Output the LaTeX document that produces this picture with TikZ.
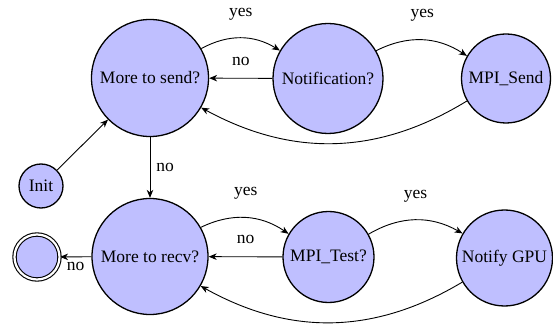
\documentclass[tikz,border=0pt]{standalone}
\usepackage{fontspec}
\setmainfont{Liberation Serif}
\usetikzlibrary{arrows.meta}
\begin{document}
\begin{tikzpicture}[x=1pt,y=1pt,
  every node/.style={font=\fontsize{17.5}{20}\selectfont},
  state/.style={circle,draw,line width=1.3pt,fill=blue!25,inner sep=0pt},
  accept/.style={state,double,double distance=2.2pt,line width=1.1pt},
  trans/.style={line width=0.9pt,-{Stealth[length=8pt,width=6.5pt,inset=2.5pt]}},
  lbl/.style={inner sep=1pt}]
\useasboundingbox (0,0) rectangle (553,329);

% states
\node[state,minimum size=117] (send)   at (150,251)   {More to send?};
\node[state,minimum size=110] (notif)  at (328,250.5) {Notification?};
\node[state,minimum size=89]  (mpisend) at (506,250.5) {MPI\_Send};
\node[state,minimum size=44]  (init)   at (41,143)    {Init};
\node[state,minimum size=116] (recv)   at (150,72.5)  {More to recv?};
\node[accept,minimum size=45] (final)  at (37,72)     {};
\node[state,minimum size=91]  (test)   at (328.5,72)  {MPI\_Test?};
\node[state,minimum size=96]  (notify) at (504.5,71)  {Notify GPU};

% transitions of the send loop
\draw[trans] (init) -- (send);
\draw[trans] (send) to[bend left=30] node[lbl,midway,yshift=24pt] {yes} (notif);
\draw[trans] (notif) -- node[lbl,midway,yshift=17pt] {no} (send);
\draw[trans] (notif) to[bend left=30] node[lbl,midway,yshift=25pt] {yes} (mpisend);
\draw[trans] (mpisend) to[bend left=30] (send);
\draw[trans] (send) -- node[lbl,midway,xshift=15pt] {no} (recv);

% transitions of the receive loop
\draw[trans] (recv) to[bend left=30] node[lbl,midway,yshift=24pt] {yes} (test);
\draw[trans] (test) -- node[lbl,midway,yshift=17pt] {no} (recv);
\draw[trans] (test) to[bend left=30] node[lbl,midway,yshift=24pt] {yes} (notify);
\draw[trans] (notify) to[bend left=30] (recv);
\draw[trans] (recv) -- node[lbl,midway,yshift=-10pt] {no} (final);
\end{tikzpicture}
\end{document}
